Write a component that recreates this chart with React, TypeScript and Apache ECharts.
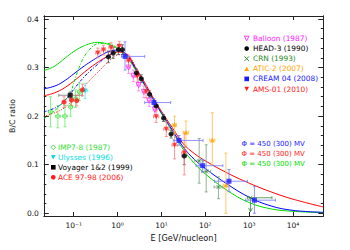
import React, { useEffect, useRef } from 'react';
import * as echarts from 'echarts';

// ---------- axes (x is log10 of E in GeV/nucleon) ----------
const X_MIN = -1.681;
const X_MAX = 4.69;
const Y_MIN = -0.0056;
const Y_MAX = 0.4062;
const xTickValues = [-1, 0, 1, 2, 3, 4];
const yTickValues = [0, 0.1, 0.2, 0.3, 0.4];
const yMinorValues = [0.02, 0.04, 0.06, 0.08, 0.12, 0.14, 0.16, 0.18, 0.22, 0.24, 0.26, 0.28, 0.32, 0.34, 0.36, 0.38];
const SUP: Record<string, string> = { '-1': '⁻¹', '0': '⁰', '1': '¹', '2': '²', '3': '³', '4': '⁴' };

// ---------- model curves [log10 E, B/C] ----------
const greenSolid = [[-1.681, 0.294], [-1.45, 0.302], [-1.19, 0.32], [-1.0, 0.333], [-0.81, 0.343], [-0.6, 0.35], [-0.45, 0.352], [-0.3, 0.35], [-0.1, 0.344], [0.1, 0.332], [0.3, 0.311], [0.5, 0.281], [0.75, 0.243], [1.0, 0.205], [1.25, 0.168], [1.5, 0.131], [1.75, 0.103], [2.0, 0.081], [2.5, 0.047], [3.0, 0.022], [3.5, 0.009], [4.0, 0.004], [4.69, 0.0015]];
const blueSolid = [[-1.681, 0.256], [-1.4, 0.263], [-1.19, 0.274], [-1.0, 0.287], [-0.81, 0.3], [-0.6, 0.313], [-0.4, 0.324], [-0.2, 0.333], [0, 0.336], [0.2, 0.327], [0.4, 0.299], [0.6, 0.268], [0.8, 0.237], [1.0, 0.207], [1.25, 0.171], [1.5, 0.136], [1.75, 0.111], [2.0, 0.092], [2.5, 0.06], [3.0, 0.033], [3.5, 0.015], [4.0, 0.006], [4.69, 0.002]];
const redSolid = [[-1.681, 0.242], [-1.5, 0.246], [-1.27, 0.255], [-1.0, 0.272], [-0.75, 0.291], [-0.5, 0.308], [-0.25, 0.322], [0, 0.332], [0.2, 0.328], [0.4, 0.302], [0.6, 0.272], [0.8, 0.24], [1.0, 0.21], [1.25, 0.176], [1.5, 0.143], [1.75, 0.123], [2.0, 0.108], [2.5, 0.083], [3.0, 0.062], [3.5, 0.044], [4.0, 0.029], [4.69, 0.013]];
const greenDash = [[-1.681, 0.195], [-1.45, 0.21], [-1.25, 0.228], [-1.08, 0.248], [-0.95, 0.282], [-0.81, 0.314], [-0.65, 0.336], [-0.45, 0.349], [-0.25, 0.35], [0, 0.34], [0.2, 0.324], [0.4, 0.296]];
const blueDash = [[-1.681, 0.209], [-1.4, 0.218], [-1.2, 0.232], [-1.0, 0.255], [-0.75, 0.282], [-0.5, 0.303], [-0.25, 0.322], [0, 0.334], [0.2, 0.327], [0.4, 0.299]];
const redDot = [[-1.681, 0.2], [-1.4, 0.208], [-1.2, 0.218], [-1.0, 0.235], [-0.8, 0.257], [-0.6, 0.277], [-0.4, 0.295], [-0.2, 0.313], [0, 0.326], [0.2, 0.327], [0.4, 0.302]];

// ---------- data [log10 E, B/C, xlo, xhi, ylo, yhi] ----------
const imp78 = [[-1.53, 0.209, -1.58, -1.48, 0.178, 0.24], [-1.36, 0.2, -1.41, -1.31, 0.176, 0.222], [-1.2, 0.2, -1.25, -1.15, 0.178, 0.222], [-1.07, 0.219, -1.11, -1.03, 0.2, 0.238], [-0.96, 0.236, -1.0, -0.92, 0.218, 0.254], [-0.87, 0.25, -0.91, -0.83, 0.232, 0.268]];
const ulysses = [[-0.74, 0.252, -0.8, -0.68, 0.236, 0.268]];
const voyager = [[-1.08, 0.243, -1.34, -0.81, 0.236, 0.25]];
const ace = [[-1.22, 0.229, -1.26, -1.18, 0.218, 0.24], [-1.05, 0.233, -1.09, -1.01, 0.222, 0.244], [-0.93, 0.232, -0.97, -0.89, 0.221, 0.243], [-0.8, 0.254, -0.84, -0.76, 0.242, 0.266]];
const head3 = [[-0.21, 0.322, -0.26, -0.16, 0.31, 0.334], [-0.1, 0.33, -0.14, -0.06, 0.319, 0.341], [0.02, 0.337, -0.02, 0.06, 0.327, 0.347], [0.11, 0.337, 0.07, 0.15, 0.327, 0.347], [0.43, 0.289, 0.39, 0.47, 0.281, 0.297], [0.54, 0.277, 0.5, 0.58, 0.269, 0.285], [0.73, 0.245, 0.69, 0.77, 0.238, 0.252], [0.88, 0.221, 0.84, 0.92, 0.214, 0.228], [1.05, 0.196, 1.01, 1.09, 0.189, 0.203], [1.22, 0.163, 1.18, 1.26, 0.155, 0.171], [1.52, 0.118, 1.47, 1.57, 0.1, 0.136]];
const balloon = [[0.25, 0.3, 0.21, 0.29, 0.288, 0.312], [0.36, 0.283, 0.32, 0.4, 0.271, 0.295], [0.48, 0.264, 0.44, 0.52, 0.252, 0.276], [0.6, 0.25, 0.56, 0.64, 0.238, 0.262], [0.72, 0.232, 0.68, 0.76, 0.22, 0.244], [0.85, 0.213, 0.81, 0.89, 0.2, 0.226]];
const ams01 = [[-0.45, 0.33, -0.5, -0.4, 0.32, 0.34], [-0.32, 0.336, -0.37, -0.27, 0.326, 0.346], [-0.15, 0.341, -0.2, -0.1, 0.331, 0.351], [0.04, 0.344, -0.01, 0.09, 0.334, 0.354], [0.25, 0.314, 0.2, 0.3, 0.302, 0.326], [0.45, 0.282, 0.4, 0.5, 0.27, 0.294], [0.65, 0.25, 0.6, 0.7, 0.238, 0.262], [0.88, 0.199, 0.82, 0.94, 0.187, 0.211], [1.11, 0.173, 1.05, 1.17, 0.158, 0.188], [1.3, 0.14, 1.24, 1.36, 0.112, 0.168], [1.52, 0.124, 1.46, 1.58, 0.079, 0.165]];
const crn = [[1.86, 0.108, 1.76, 1.96, 0.062, 0.154], [2.02, 0.086, 1.92, 2.12, 0.044, 0.141], [2.3, 0.054, 2.2, 2.4, 0.03, 0.075]];
const crnLimit = [[3.03, 0.032, 2.96, 3.52, 0.003, 0.032]];
const atic2 = [[1.3, 0.183, 1.26, 1.34, 0.165, 0.2], [1.56, 0.167, 1.5, 1.62, 0.14, 0.19], [2.16, 0.151, 2.1, 2.22, 0.1, 0.207], [2.47, 0.058, 2.41, 2.53, 0.0, 0.124]];
const cream04 = [[0.17, 0.323, 0.09, 0.62, 0.295, 0.353], [0.83, 0.228, 0.62, 1.21, 0.22, 0.236], [1.4, 0.15, 1.27, 1.95, 0.14, 0.16], [1.94, 0.098, 1.79, 2.4, 0.085, 0.111], [2.54, 0.066, 2.21, 2.96, 0.045, 0.09], [3.12, 0.027, 2.92, 3.6, 0.0, 0.055]];

// ---------- legend labels ----------
const legendTopRight = ['Balloon (1987)', 'HEAD-3 (1990)', 'CRN (1993)', 'ATIC-2 (2007)', 'CREAM 04 (2008)', 'AMS-01 (2010)'];
const legendBottomLeft = ['IMP7-8 (1987)', 'Ulysses (1996)', 'Voyager 1&2 (1999)', 'ACE 97-98 (2006)'];
const legendPhi = ['Φ = 450 (300) MV', 'Φ = 450 (300) MV', 'Φ = 450 (300) MV'];

const FONT = 'DejaVu Sans';
const C = {
  magenta: '#ff22ff', black: '#000000', crn: '#2a8a2a', orange: '#ffa500', blue: '#1a1aff', red: '#ff1a1a',
  imp: '#33dd33', cyan: '#00dddd', green: '#00dd00',
};

function errorRender(color: string, limit: boolean) {
  return (params: any, api: any) => {
    const x = api.value(0), y = api.value(1);
    const xlo = api.value(2), xhi = api.value(3), ylo = api.value(4), yhi = api.value(5);
    const st = { stroke: color, lineWidth: 0.8 };
    const kids: any[] = [];
    const ln = (x1: number, y1: number, x2: number, y2: number) =>
      kids.push({ type: 'line', shape: { x1, y1, x2, y2 }, style: st });
    const a = api.coord([xlo, y]), b = api.coord([xhi, y]);
    ln(a[0], a[1], b[0], b[1]);
    ln(a[0], a[1] - 1.5, a[0], a[1] + 1.5);
    ln(b[0], b[1] - 1.5, b[0], b[1] + 1.5);
    const p = api.coord([x, yhi]), q = api.coord([x, ylo]);
    if (limit) {
      const c = api.coord([x, y]);
      ln(c[0], c[1], q[0], q[1]);
      ln(q[0] - 2, q[1] - 4, q[0], q[1]);
      ln(q[0] + 2, q[1] - 4, q[0], q[1]);
    } else {
      ln(p[0], p[1], q[0], q[1]);
      ln(p[0] - 1.5, p[1], p[0] + 1.5, p[1]);
      ln(q[0] - 1.5, q[1], q[0] + 1.5, q[1]);
    }
    return { type: 'group', children: kids };
  };
}

function errSeries(rows: number[][], color: string, limit = false) {
  return {
    type: 'custom', renderItem: errorRender(color, limit), data: rows, clip: true, z: 3,
    encode: { x: 0, y: 1 }, silent: true,
  };
}

function symSeries(rows: number[][], symbol: string, color: string, opts: any = {}) {
  const open = opts.open;
  return {
    type: 'scatter', data: rows.map((r) => [r[0], r[1]]), symbol, symbolSize: opts.size || 5,
    symbolRotate: opts.rotate || 0, z: 4, silent: true,
    itemStyle: open ? { color: 'rgba(0,0,0,0)', borderColor: color, borderWidth: 0.9 } : { color },
  };
}

function lineSeries(data: number[][], color: string, type: any) {
  return {
    type: 'line', data, smooth: 0.4, showSymbol: false, symbol: 'none', z: 2, silent: true,
    lineStyle: { color, width: 1, type },
  };
}

const CROSS = 'path://M0,0L10,10M10,0L0,10';

function legendSymbol(kind: string, cx: number, cy: number, color: string): any[] {
  const s = 2.3;
  switch (kind) {
    case 'circle': return [{ type: 'circle', shape: { cx, cy, r: s }, style: { fill: color } }];
    case 'square': return [{ type: 'rect', shape: { x: cx - s, y: cy - s, width: 2 * s, height: 2 * s }, style: { fill: color } }];
    case 'triUp': return [{ type: 'polygon', shape: { points: [[cx, cy - s], [cx + s, cy + s], [cx - s, cy + s]] }, style: { fill: color } }];
    case 'triDown': return [{ type: 'polygon', shape: { points: [[cx - s, cy - s], [cx + s, cy - s], [cx, cy + s]] }, style: { fill: color } }];
    case 'triDownOpen': return [{ type: 'polygon', shape: { points: [[cx - s, cy - s], [cx + s, cy - s], [cx, cy + s]] }, style: { fill: 'none', stroke: color, lineWidth: 0.9 } }];
    case 'diamondOpen': return [{ type: 'polygon', shape: { points: [[cx, cy - s], [cx + s, cy], [cx, cy + s], [cx - s, cy]] }, style: { fill: 'none', stroke: color, lineWidth: 0.9 } }];
    case 'cross': return [
      { type: 'line', shape: { x1: cx - s, y1: cy - s, x2: cx + s, y2: cy + s }, style: { stroke: color, lineWidth: 0.9 } },
      { type: 'line', shape: { x1: cx + s, y1: cy - s, x2: cx - s, y2: cy + s }, style: { stroke: color, lineWidth: 0.9 } },
    ];
  }
  return [];
}

function buildOption() {
  const axisLine = { show: true, onZero: false, lineStyle: { color: '#222', width: 1 } };
  const tickStyle = { color: '#222', width: 1 };
  const trKinds = ['triDownOpen', 'circle', 'cross', 'triUp', 'square', 'triDown'];
  const trColors = [C.magenta, C.black, C.crn, C.orange, C.blue, C.red];
  const blKinds = ['diamondOpen', 'triDown', 'square', 'circle'];
  const blColors = [C.imp, C.cyan, C.black, C.red];
  const phiColors = [C.blue, C.red, C.green];
  const graphics: any[] = [];
  legendTopRight.forEach((t, i) => {
    const y = 38.5 + 10.1 * i;
    graphics.push(...legendSymbol(trKinds[i], 246.7, y, trColors[i]));
    graphics.push({ type: 'text', x: 253, y, style: { text: t, fill: trColors[i], fontSize: 7.4, fontFamily: FONT, align: 'left', verticalAlign: 'middle' } });
  });
  legendBottomLeft.forEach((t, i) => {
    const y = 147.3 + 10 * i;
    graphics.push(...legendSymbol(blKinds[i], 53.3, y, blColors[i]));
    graphics.push({ type: 'text', x: 58, y, style: { text: t, fill: blColors[i], fontSize: 7.4, fontFamily: FONT, align: 'left', verticalAlign: 'middle' } });
  });
  legendPhi.forEach((t, i) => {
    const y = 144 + 10 * i;
    graphics.push({ type: 'text', x: 241.5, y, style: { text: t, fill: phiColors[i], fontSize: 7, fontFamily: FONT, align: 'left', verticalAlign: 'middle' } });
  });

  const xBase = {
    type: 'value', min: X_MIN, max: X_MAX, splitLine: { show: false }, axisLine,
    axisTick: { show: true, inside: true, length: 4, customValues: xTickValues, lineStyle: tickStyle },
  };
  const yBase = {
    type: 'value', min: Y_MIN, max: Y_MAX, splitLine: { show: false }, axisLine,
  };

  return {
    animation: false,
    backgroundColor: '#ffffff',
    textStyle: { fontFamily: FONT },
    grid: { left: 41.7, right: 26.7, top: 16, bottom: 34 },
    xAxis: [
      {
        ...xBase, position: 'bottom',
        axisLabel: {
          show: true, customValues: xTickValues, margin: 5, fontSize: 7.5, color: '#111', fontFamily: FONT,
          formatter: (v: number) => '10' + SUP[String(Math.round(v))],
        },
        name: 'E [GeV/nucleon]', nameLocation: 'middle', nameGap: 17,
        nameTextStyle: { fontSize: 8.2, color: '#111', fontFamily: FONT },
      },
      { ...xBase, position: 'top', axisLabel: { show: false } },
    ],
    yAxis: [
      {
        ...yBase, position: 'left',
        axisTick: { show: true, inside: true, length: 5, customValues: yTickValues, lineStyle: tickStyle },
        axisLabel: {
          show: true, customValues: yTickValues, margin: 5, fontSize: 7.5, color: '#111', fontFamily: FONT,
          formatter: (v: number) => v.toFixed(1),
        },
        name: 'B/C ratio', nameLocation: 'middle', nameGap: 25, nameRotate: 90,
        nameTextStyle: { fontSize: 7.8, color: '#111', fontFamily: FONT },
      },
      { ...yBase, position: 'left', axisTick: { show: true, inside: true, length: 2.5, customValues: yMinorValues, lineStyle: tickStyle }, axisLabel: { show: false } },
      { ...yBase, position: 'right', axisTick: { show: true, inside: true, length: 5, customValues: yTickValues, lineStyle: tickStyle }, axisLabel: { show: false } },
      { ...yBase, position: 'right', axisTick: { show: true, inside: true, length: 2.5, customValues: yMinorValues, lineStyle: tickStyle }, axisLabel: { show: false } },
    ],
    series: [
      lineSeries(greenSolid, C.green, 'solid'),
      lineSeries(blueSolid, '#0000ff', 'solid'),
      lineSeries(redSolid, '#ff0000', 'solid'),
      lineSeries(greenDash, C.green, [3, 1.5, 1, 1.5]),
      lineSeries(blueDash, '#0000ff', [3, 1.5, 1, 1.5]),
      lineSeries(redDot, '#ff0000', [1, 1.6]),
      errSeries(imp78, '#66ee66'),
      errSeries(ulysses, '#55eeee'),
      errSeries(voyager, '#777777'),
      errSeries(ace, '#ff7777'),
      errSeries(head3, '#555555'),
      errSeries(balloon, '#ff77ff'),
      errSeries(ams01, '#ff7777'),
      errSeries(crn, '#7aa07a'),
      errSeries(crnLimit, '#3a8a3a', true),
      errSeries(atic2, '#ffbb44'),
      errSeries(cream04, '#7777ff'),
      symSeries(imp78, 'diamond', C.imp, { open: true }),
      symSeries(ulysses, 'triangle', C.cyan, { rotate: 180 }),
      symSeries(voyager, 'rect', C.black),
      symSeries(ace, 'circle', C.red),
      symSeries(balloon, 'triangle', C.magenta, { rotate: 180, open: true }),
      symSeries(ams01, 'triangle', C.red, { rotate: 180 }),
      symSeries(head3, 'circle', C.black),
      symSeries(crn, CROSS, C.crn, { open: true, size: 4 }),
      symSeries(crnLimit, CROSS, C.crn, { open: true, size: 4 }),
      symSeries(atic2, 'triangle', C.orange),
      symSeries(cream04, 'rect', C.blue),
    ],
    graphic: graphics,
  };
}

export default function App() {
  const ref = useRef<HTMLDivElement>(null);
  useEffect(() => {
    document.body.style.margin = '0';
    const chart = echarts.init(ref.current!, null, { renderer: 'svg' });
    chart.setOption(buildOption() as any);
    return () => chart.dispose();
  }, []);
  return <div ref={ref} style={{ position: 'fixed', left: 0, top: 0, width: 350, height: 250 }} />;
}
